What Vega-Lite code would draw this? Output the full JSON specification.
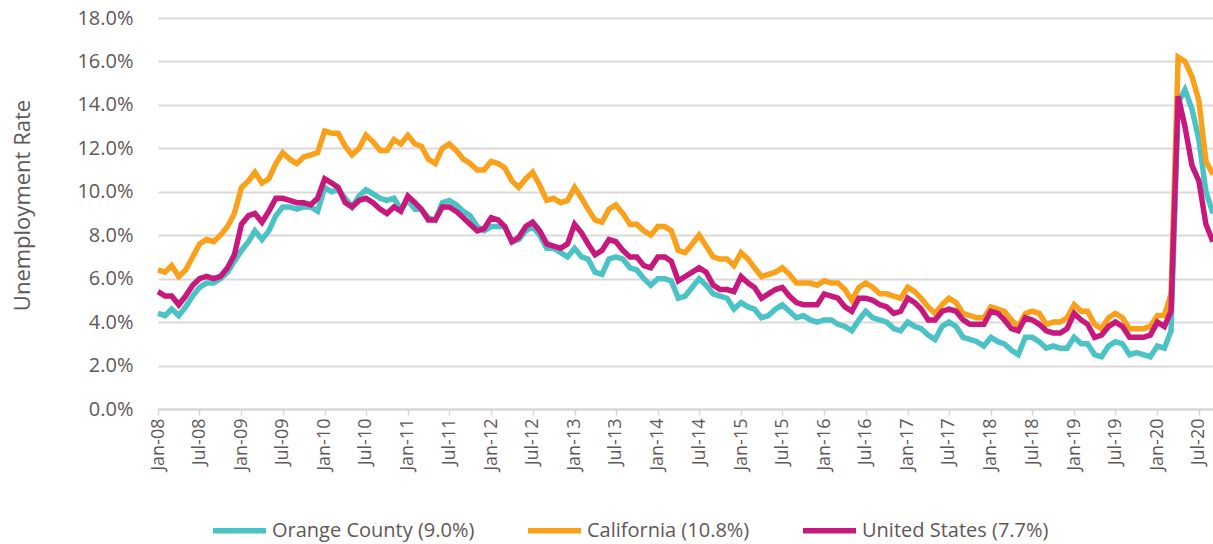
{
  "$schema": "https://vega.github.io/schema/vega-lite/v6.json",
  "width": 1055,
  "height": 391,
  "autosize": {"type": "none"},
  "padding": {"left": 158, "top": 18, "right": 0, "bottom": 135},
  "background": "white",
  "config": {"font": "Open Sans", "view": {"stroke": null}},
  "data": {"values": [
    {"date": "2008-01-01", "oc": 4.4, "ca": 6.4, "us": 5.4},
    {"date": "2008-02-01", "oc": 4.3, "ca": 6.3, "us": 5.2},
    {"date": "2008-03-01", "oc": 4.6, "ca": 6.6, "us": 5.2},
    {"date": "2008-04-01", "oc": 4.3, "ca": 6.1, "us": 4.8},
    {"date": "2008-05-01", "oc": 4.7, "ca": 6.4, "us": 5.2},
    {"date": "2008-06-01", "oc": 5.2, "ca": 7.0, "us": 5.7},
    {"date": "2008-07-01", "oc": 5.6, "ca": 7.6, "us": 6.0},
    {"date": "2008-08-01", "oc": 5.8, "ca": 7.8, "us": 6.1},
    {"date": "2008-09-01", "oc": 5.8, "ca": 7.7, "us": 6.0},
    {"date": "2008-10-01", "oc": 6.0, "ca": 8.0, "us": 6.1},
    {"date": "2008-11-01", "oc": 6.3, "ca": 8.4, "us": 6.5},
    {"date": "2008-12-01", "oc": 6.8, "ca": 9.0, "us": 7.1},
    {"date": "2009-01-01", "oc": 7.3, "ca": 10.2, "us": 8.5},
    {"date": "2009-02-01", "oc": 7.7, "ca": 10.5, "us": 8.9},
    {"date": "2009-03-01", "oc": 8.2, "ca": 10.9, "us": 9.0},
    {"date": "2009-04-01", "oc": 7.8, "ca": 10.4, "us": 8.6},
    {"date": "2009-05-01", "oc": 8.2, "ca": 10.6, "us": 9.1},
    {"date": "2009-06-01", "oc": 8.9, "ca": 11.3, "us": 9.7},
    {"date": "2009-07-01", "oc": 9.3, "ca": 11.8, "us": 9.7},
    {"date": "2009-08-01", "oc": 9.3, "ca": 11.5, "us": 9.6},
    {"date": "2009-09-01", "oc": 9.2, "ca": 11.3, "us": 9.5},
    {"date": "2009-10-01", "oc": 9.3, "ca": 11.6, "us": 9.5},
    {"date": "2009-11-01", "oc": 9.3, "ca": 11.7, "us": 9.4},
    {"date": "2009-12-01", "oc": 9.1, "ca": 11.8, "us": 9.7},
    {"date": "2010-01-01", "oc": 10.2, "ca": 12.8, "us": 10.6},
    {"date": "2010-02-01", "oc": 10.0, "ca": 12.7, "us": 10.4},
    {"date": "2010-03-01", "oc": 10.1, "ca": 12.7, "us": 10.2},
    {"date": "2010-04-01", "oc": 9.7, "ca": 12.1, "us": 9.5},
    {"date": "2010-05-01", "oc": 9.3, "ca": 11.7, "us": 9.3},
    {"date": "2010-06-01", "oc": 9.8, "ca": 12.0, "us": 9.6},
    {"date": "2010-07-01", "oc": 10.1, "ca": 12.6, "us": 9.7},
    {"date": "2010-08-01", "oc": 9.9, "ca": 12.3, "us": 9.5},
    {"date": "2010-09-01", "oc": 9.7, "ca": 11.9, "us": 9.2},
    {"date": "2010-10-01", "oc": 9.6, "ca": 11.9, "us": 9.0},
    {"date": "2010-11-01", "oc": 9.7, "ca": 12.4, "us": 9.3},
    {"date": "2010-12-01", "oc": 9.2, "ca": 12.2, "us": 9.1},
    {"date": "2011-01-01", "oc": 9.6, "ca": 12.6, "us": 9.8},
    {"date": "2011-02-01", "oc": 9.2, "ca": 12.2, "us": 9.5},
    {"date": "2011-03-01", "oc": 9.2, "ca": 12.1, "us": 9.2},
    {"date": "2011-04-01", "oc": 8.8, "ca": 11.5, "us": 8.7},
    {"date": "2011-05-01", "oc": 8.7, "ca": 11.3, "us": 8.7},
    {"date": "2011-06-01", "oc": 9.5, "ca": 12.0, "us": 9.3},
    {"date": "2011-07-01", "oc": 9.6, "ca": 12.2, "us": 9.3},
    {"date": "2011-08-01", "oc": 9.4, "ca": 11.9, "us": 9.1},
    {"date": "2011-09-01", "oc": 9.1, "ca": 11.5, "us": 8.8},
    {"date": "2011-10-01", "oc": 8.9, "ca": 11.3, "us": 8.5},
    {"date": "2011-11-01", "oc": 8.4, "ca": 11.0, "us": 8.2},
    {"date": "2011-12-01", "oc": 8.2, "ca": 11.0, "us": 8.3},
    {"date": "2012-01-01", "oc": 8.4, "ca": 11.4, "us": 8.8},
    {"date": "2012-02-01", "oc": 8.4, "ca": 11.3, "us": 8.7},
    {"date": "2012-03-01", "oc": 8.4, "ca": 11.1, "us": 8.4},
    {"date": "2012-04-01", "oc": 7.7, "ca": 10.5, "us": 7.7},
    {"date": "2012-05-01", "oc": 7.8, "ca": 10.2, "us": 7.9},
    {"date": "2012-06-01", "oc": 8.2, "ca": 10.6, "us": 8.4},
    {"date": "2012-07-01", "oc": 8.4, "ca": 10.9, "us": 8.6},
    {"date": "2012-08-01", "oc": 8.0, "ca": 10.3, "us": 8.2},
    {"date": "2012-09-01", "oc": 7.4, "ca": 9.6, "us": 7.6},
    {"date": "2012-10-01", "oc": 7.4, "ca": 9.7, "us": 7.5},
    {"date": "2012-11-01", "oc": 7.2, "ca": 9.5, "us": 7.4},
    {"date": "2012-12-01", "oc": 7.0, "ca": 9.6, "us": 7.6},
    {"date": "2013-01-01", "oc": 7.4, "ca": 10.2, "us": 8.5},
    {"date": "2013-02-01", "oc": 7.0, "ca": 9.7, "us": 8.1},
    {"date": "2013-03-01", "oc": 6.9, "ca": 9.2, "us": 7.6},
    {"date": "2013-04-01", "oc": 6.3, "ca": 8.7, "us": 7.1},
    {"date": "2013-05-01", "oc": 6.2, "ca": 8.6, "us": 7.3},
    {"date": "2013-06-01", "oc": 6.9, "ca": 9.2, "us": 7.8},
    {"date": "2013-07-01", "oc": 7.0, "ca": 9.4, "us": 7.7},
    {"date": "2013-08-01", "oc": 6.9, "ca": 9.0, "us": 7.3},
    {"date": "2013-09-01", "oc": 6.5, "ca": 8.5, "us": 7.0},
    {"date": "2013-10-01", "oc": 6.4, "ca": 8.5, "us": 7.0},
    {"date": "2013-11-01", "oc": 6.0, "ca": 8.2, "us": 6.6},
    {"date": "2013-12-01", "oc": 5.7, "ca": 8.0, "us": 6.5},
    {"date": "2014-01-01", "oc": 6.0, "ca": 8.4, "us": 7.0},
    {"date": "2014-02-01", "oc": 6.0, "ca": 8.4, "us": 7.0},
    {"date": "2014-03-01", "oc": 5.9, "ca": 8.2, "us": 6.8},
    {"date": "2014-04-01", "oc": 5.1, "ca": 7.3, "us": 5.9},
    {"date": "2014-05-01", "oc": 5.2, "ca": 7.2, "us": 6.1},
    {"date": "2014-06-01", "oc": 5.6, "ca": 7.6, "us": 6.3},
    {"date": "2014-07-01", "oc": 6.0, "ca": 8.0, "us": 6.5},
    {"date": "2014-08-01", "oc": 5.7, "ca": 7.5, "us": 6.3},
    {"date": "2014-09-01", "oc": 5.3, "ca": 7.0, "us": 5.7},
    {"date": "2014-10-01", "oc": 5.2, "ca": 6.9, "us": 5.5},
    {"date": "2014-11-01", "oc": 5.1, "ca": 6.9, "us": 5.5},
    {"date": "2014-12-01", "oc": 4.6, "ca": 6.6, "us": 5.4},
    {"date": "2015-01-01", "oc": 4.9, "ca": 7.2, "us": 6.1},
    {"date": "2015-02-01", "oc": 4.7, "ca": 6.9, "us": 5.8},
    {"date": "2015-03-01", "oc": 4.6, "ca": 6.5, "us": 5.6},
    {"date": "2015-04-01", "oc": 4.2, "ca": 6.1, "us": 5.1},
    {"date": "2015-05-01", "oc": 4.3, "ca": 6.2, "us": 5.3},
    {"date": "2015-06-01", "oc": 4.6, "ca": 6.3, "us": 5.5},
    {"date": "2015-07-01", "oc": 4.8, "ca": 6.5, "us": 5.6},
    {"date": "2015-08-01", "oc": 4.5, "ca": 6.2, "us": 5.2},
    {"date": "2015-09-01", "oc": 4.2, "ca": 5.8, "us": 4.9},
    {"date": "2015-10-01", "oc": 4.3, "ca": 5.8, "us": 4.8},
    {"date": "2015-11-01", "oc": 4.1, "ca": 5.8, "us": 4.8},
    {"date": "2015-12-01", "oc": 4.0, "ca": 5.7, "us": 4.8},
    {"date": "2016-01-01", "oc": 4.1, "ca": 5.9, "us": 5.3},
    {"date": "2016-02-01", "oc": 4.1, "ca": 5.8, "us": 5.2},
    {"date": "2016-03-01", "oc": 3.9, "ca": 5.8, "us": 5.1},
    {"date": "2016-04-01", "oc": 3.8, "ca": 5.5, "us": 4.7},
    {"date": "2016-05-01", "oc": 3.6, "ca": 5.0, "us": 4.5},
    {"date": "2016-06-01", "oc": 4.1, "ca": 5.6, "us": 5.1},
    {"date": "2016-07-01", "oc": 4.5, "ca": 5.8, "us": 5.1},
    {"date": "2016-08-01", "oc": 4.2, "ca": 5.6, "us": 5.0},
    {"date": "2016-09-01", "oc": 4.1, "ca": 5.3, "us": 4.8},
    {"date": "2016-10-01", "oc": 4.0, "ca": 5.3, "us": 4.7},
    {"date": "2016-11-01", "oc": 3.7, "ca": 5.2, "us": 4.4},
    {"date": "2016-12-01", "oc": 3.6, "ca": 5.1, "us": 4.5},
    {"date": "2017-01-01", "oc": 4.0, "ca": 5.6, "us": 5.1},
    {"date": "2017-02-01", "oc": 3.8, "ca": 5.4, "us": 4.9},
    {"date": "2017-03-01", "oc": 3.7, "ca": 5.1, "us": 4.6},
    {"date": "2017-04-01", "oc": 3.4, "ca": 4.7, "us": 4.1},
    {"date": "2017-05-01", "oc": 3.2, "ca": 4.4, "us": 4.1},
    {"date": "2017-06-01", "oc": 3.8, "ca": 4.8, "us": 4.5},
    {"date": "2017-07-01", "oc": 4.0, "ca": 5.1, "us": 4.6},
    {"date": "2017-08-01", "oc": 3.8, "ca": 4.9, "us": 4.5},
    {"date": "2017-09-01", "oc": 3.3, "ca": 4.4, "us": 4.1},
    {"date": "2017-10-01", "oc": 3.2, "ca": 4.3, "us": 3.9},
    {"date": "2017-11-01", "oc": 3.1, "ca": 4.2, "us": 3.9},
    {"date": "2017-12-01", "oc": 2.9, "ca": 4.2, "us": 3.9},
    {"date": "2018-01-01", "oc": 3.3, "ca": 4.7, "us": 4.5},
    {"date": "2018-02-01", "oc": 3.1, "ca": 4.6, "us": 4.4},
    {"date": "2018-03-01", "oc": 3.0, "ca": 4.5, "us": 4.1},
    {"date": "2018-04-01", "oc": 2.7, "ca": 4.1, "us": 3.7},
    {"date": "2018-05-01", "oc": 2.5, "ca": 3.8, "us": 3.6},
    {"date": "2018-06-01", "oc": 3.3, "ca": 4.4, "us": 4.2},
    {"date": "2018-07-01", "oc": 3.3, "ca": 4.5, "us": 4.1},
    {"date": "2018-08-01", "oc": 3.1, "ca": 4.4, "us": 3.9},
    {"date": "2018-09-01", "oc": 2.8, "ca": 3.9, "us": 3.6},
    {"date": "2018-10-01", "oc": 2.9, "ca": 4.0, "us": 3.5},
    {"date": "2018-11-01", "oc": 2.8, "ca": 4.0, "us": 3.5},
    {"date": "2018-12-01", "oc": 2.8, "ca": 4.2, "us": 3.7},
    {"date": "2019-01-01", "oc": 3.3, "ca": 4.8, "us": 4.4},
    {"date": "2019-02-01", "oc": 3.0, "ca": 4.5, "us": 4.1},
    {"date": "2019-03-01", "oc": 3.0, "ca": 4.5, "us": 3.9},
    {"date": "2019-04-01", "oc": 2.5, "ca": 3.9, "us": 3.3},
    {"date": "2019-05-01", "oc": 2.4, "ca": 3.7, "us": 3.4},
    {"date": "2019-06-01", "oc": 2.9, "ca": 4.2, "us": 3.8},
    {"date": "2019-07-01", "oc": 3.1, "ca": 4.4, "us": 4.0},
    {"date": "2019-08-01", "oc": 3.0, "ca": 4.2, "us": 3.8},
    {"date": "2019-09-01", "oc": 2.5, "ca": 3.7, "us": 3.3},
    {"date": "2019-10-01", "oc": 2.6, "ca": 3.7, "us": 3.3},
    {"date": "2019-11-01", "oc": 2.5, "ca": 3.7, "us": 3.3},
    {"date": "2019-12-01", "oc": 2.4, "ca": 3.8, "us": 3.4},
    {"date": "2020-01-01", "oc": 2.9, "ca": 4.3, "us": 4.0},
    {"date": "2020-02-01", "oc": 2.8, "ca": 4.3, "us": 3.8},
    {"date": "2020-03-01", "oc": 3.6, "ca": 5.3, "us": 4.5},
    {"date": "2020-04-01", "oc": 14.1, "ca": 16.2, "us": 14.4},
    {"date": "2020-05-01", "oc": 14.7, "ca": 16.0, "us": 13.0},
    {"date": "2020-06-01", "oc": 13.8, "ca": 15.3, "us": 11.2},
    {"date": "2020-07-01", "oc": 12.4, "ca": 14.2, "us": 10.5},
    {"date": "2020-08-01", "oc": 10.0, "ca": 11.4, "us": 8.5},
    {"date": "2020-09-01", "oc": 9.0, "ca": 10.8, "us": 7.7}
  ]},
  "transform": [
    {"fold": ["oc", "ca", "us"], "as": ["key", "rate"]},
    {"lookup": "key", "from": {"data": {"values": [
      {"key": "oc", "series": "Orange County (9.0%)"},
      {"key": "ca", "series": "California (10.8%)"},
      {"key": "us", "series": "United States (7.7%)"}
    ]}, "key": "key", "fields": ["series"]}}
  ],
  "mark": {"type": "line", "strokeWidth": 5.5},
  "encoding": {
    "x": {
      "field": "date", "type": "temporal",
      "scale": {"type": "utc", "nice": false},
      "axis": {
        "title": null,
        "labelExpr": "utcFormat(datum.value, '%b-%y')",
        "tickCount": {"interval": "month", "step": 6},
        "labelAngle": -90, "labelFontSize": 18, "labelColor": "#5f5858",
        "labelPadding": 3, "labelOverlap": false, "labelFlush": false,
        "tickSize": 6, "tickColor": "#d9d5d5", "tickWidth": 1.5,
        "domainColor": "#d9d5d5", "domainWidth": 2, "grid": false
      }
    },
    "y": {
      "field": "rate", "type": "quantitative",
      "scale": {"domain": [0, 18], "nice": false},
      "axis": {
        "title": "Unemployment Rate", "titleFontSize": 22, "titleFontWeight": "normal",
        "titleColor": "#5f5858", "titleX": -136, "titleY": 187, "titleAlign": "center",
        "titleBaseline": "middle", "titleAngle": -90,
        "values": [0, 2, 4, 6, 8, 10, 12, 14, 16, 18],
        "labelExpr": "format(datum.value, '.1f') + '%'",
        "labelFontSize": 20, "labelColor": "#5f5858", "labelPadding": 25,
        "ticks": false, "domain": false,
        "grid": true, "gridColor": "#dcd8d8", "gridWidth": 2
      }
    },
    "color": {
      "field": "series", "type": "nominal",
      "scale": {
        "domain": ["Orange County (9.0%)", "California (10.8%)", "United States (7.7%)"],
        "range": ["#4bc2c5", "#f9a11b", "#c7197d"]
      },
      "legend": {
        "orient": "none", "legendX": 52, "legendY": 483, "direction": "horizontal",
        "title": null, "symbolType": "stroke", "symbolSize": 2809, "symbolStrokeWidth": 5.5,
        "labelFontSize": 20, "labelColor": "#5f5858", "labelOffset": 3,
        "columnPadding": 42, "labelLimit": 400
      }
    }
  }
}
